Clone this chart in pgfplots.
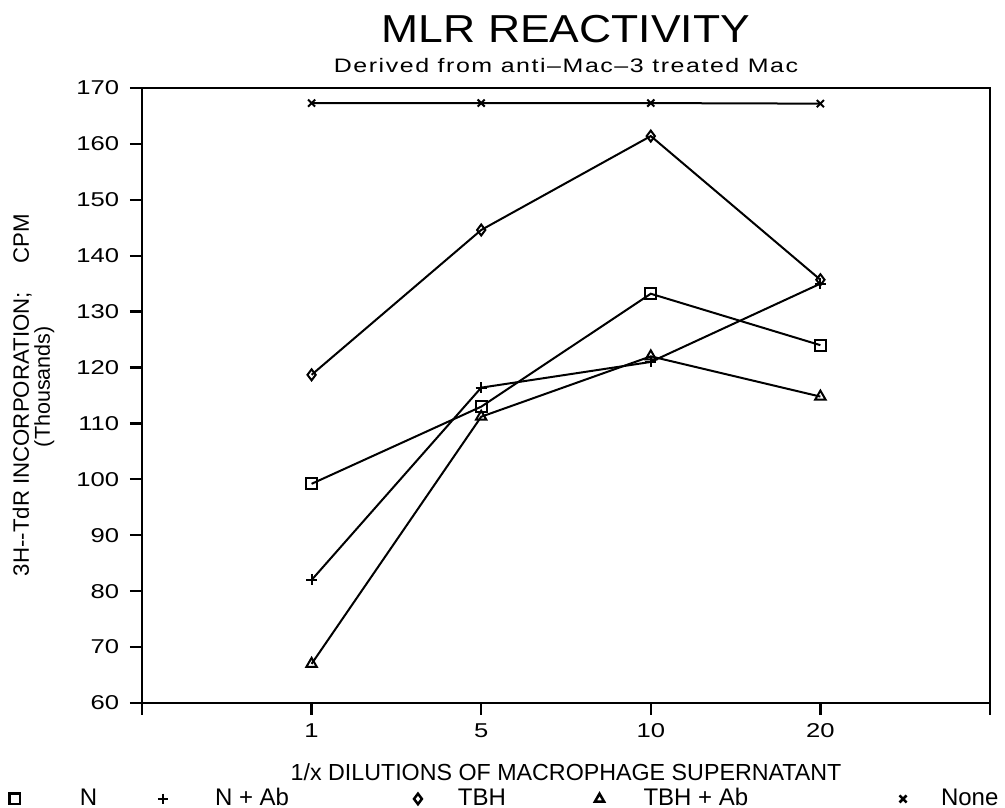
\documentclass[border=0pt]{standalone}
\usepackage{pgfplots}
\pgfplotsset{compat=1.18}
\usepackage{fontspec}
\setmainfont{Liberation Sans}[FakeStretch=1.28]
\newfontfamily\ylabfont{Liberation Sans}
\newfontfamily\titlefont{Liberation Sans}[FakeStretch=1.14]
\begin{document}
\begin{tikzpicture}
\path[use as bounding box] (-56.8pt,-42pt) rectangle (345.2pt,281.2pt);
\begin{axis}[
  at={(0pt,0pt)}, anchor=south west,
  scale only axis, width=339.2pt, height=246pt,
  xmin=0, xmax=5, ymin=60, ymax=170,
  xtick={0,1,2,3,4,5}, xticklabels={,1,5,10,20,},
  ytick={60,70,...,170},
  xtick pos=bottom, ytick pos=left,
  tick align=outside, major tick length=4.8pt,
  axis line style={line width=1pt},
  tick style={line width=0.9pt, black},
  ticklabel style={font=\fontsize{8}{9}\selectfont},
  yticklabel style={xshift=-0.8pt},
  /pgf/number format/assume math mode=true,
  every axis plot/.append style={black, line width=0.8pt, mark options={solid, line width=0.8pt}},
  legend columns=5,
  legend style={at={(-0.1568,-0.156)}, anchor=west, draw=none, fill=none,
    inner sep=0pt, column sep=0pt, row sep=0pt, nodes={inner sep=0pt},
    font=\ylabfont\fontsize{9.6}{11}\selectfont},
]
\addplot[forget plot, mark=square, mark size=2.2pt] coordinates {(1,99.2) (2,113) (3,133.2) (4,124)};
\addplot[forget plot, mark=+, mark size=2.2pt] coordinates {(1,82) (2,116.4) (3,121) (4,135)};
\addplot[forget plot, mark=diamond, mark size=2.2pt] coordinates {(1,118.7) (2,144.6) (3,161.4) (4,135.7)};
\addplot[forget plot, mark=triangle, mark size=2.4pt] coordinates {(1,67) (2,111.2) (3,122) (4,114.8)};
\addplot[forget plot, mark=x, mark size=2pt] coordinates {(1,167.3) (2,167.3) (3,167.3) (4,167.2)};

\addlegendimage{only marks, mark=square, mark size=2.1pt, mark options={solid, line width=1pt},
  legend image code/.code={\draw plot coordinates {(0pt,0pt)}; \path[draw=none] (0pt,0pt) -- (26pt,0pt);}}
\addlegendentry{\makebox[31.2pt][l]{N}}
\addlegendimage{only marks, mark=+, mark size=2.1pt, mark options={solid, line width=1pt},
  legend image code/.code={\draw plot coordinates {(0pt,0pt)}; \path[draw=none] (0pt,0pt) -- (20.8pt,0pt);}}
\addlegendentry{\makebox[79.6pt][l]{N + Ab}}
\addlegendimage{only marks, mark=diamond, mark size=2.1pt, mark options={solid, line width=1pt},
  legend image code/.code={\draw plot coordinates {(0pt,0pt)}; \path[draw=none] (0pt,0pt) -- (16pt,0pt);}}
\addlegendentry{\makebox[54.8pt][l]{TBH}}
\addlegendimage{only marks, mark=triangle, mark size=2.1pt, mark options={solid, line width=1pt},
  legend image code/.code={\draw plot coordinates {(0pt,0pt)}; \path[draw=none] (0pt,0pt) -- (17.6pt,0pt);}}
\addlegendentry{\makebox[102.4pt][l]{TBH + Ab}}
\addlegendimage{only marks, mark=x, mark size=2pt, mark options={solid, line width=1pt},
  legend image code/.code={\draw plot coordinates {(0pt,0pt)}; \path[draw=none] (0pt,0pt) -- (15.2pt,0pt);}}
\addlegendentry{None}
\end{axis}
% titles and labels
\node[anchor=base, font=\titlefont\fontsize{15.6}{18}\selectfont] at (169.6pt,264pt) {MLR REACTIVITY};
\node[anchor=base, font=\fontsize{7.8}{9}\selectfont\addfontfeatures{LetterSpace=8}] at (169.6pt,252pt) {Derived from anti--Mac--3 treated Mac};
\node[anchor=base, font=\ylabfont\fontsize{9.3}{10}\selectfont] at (169.6pt,-31.0pt) {1/x DILUTIONS OF MACROPHAGE SUPERNATANT};
\node[anchor=base, rotate=90, font=\ylabfont\fontsize{8.9}{10}\selectfont] at (-45.2pt,123.2pt) {3H--TdR INCORPORATION;\hspace{1.3em}CPM};
\node[anchor=base, rotate=90, font=\ylabfont\fontsize{8.6}{10}\selectfont] at (-36.8pt,126.5pt) {(Thousands)};
\end{tikzpicture}
\end{document}
